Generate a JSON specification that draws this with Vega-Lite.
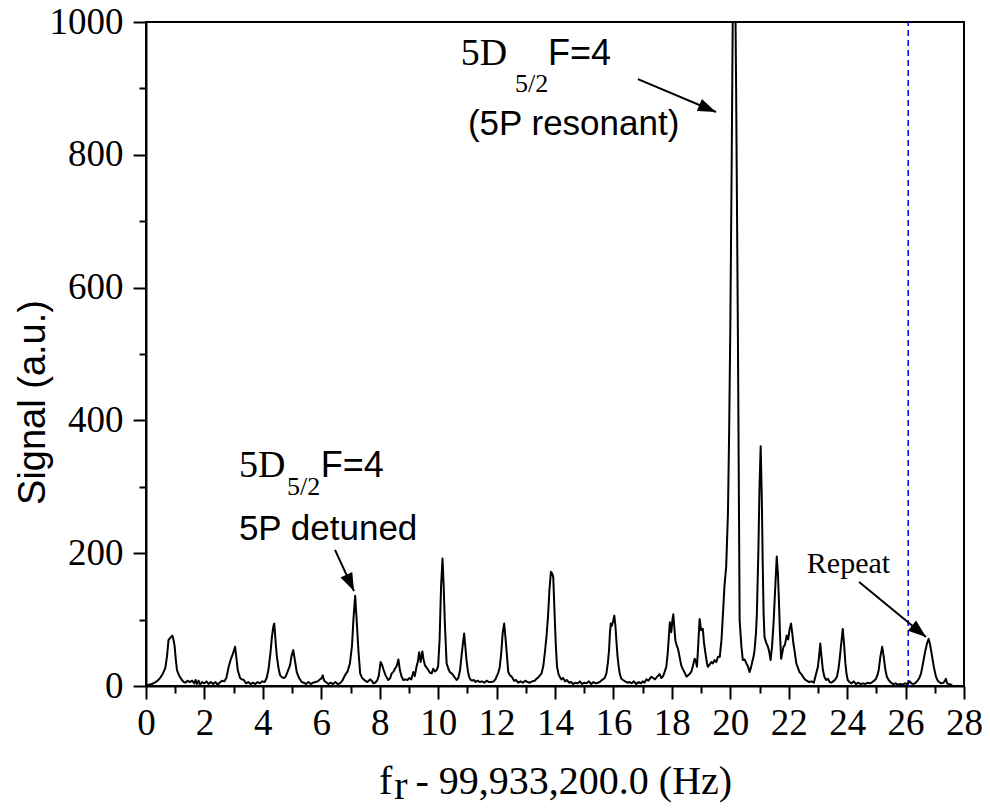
{
  "$schema": "https://vega.github.io/schema/vega-lite/v6.json",
  "width": 818,
  "height": 664,
  "autosize": {"type": "none"},
  "padding": {"left": 146, "top": 22, "right": 26, "bottom": 123},
  "background": "white",
  "config": {
    "view": {"stroke": "black", "strokeWidth": 2},
    "axis": {"domainColor": "black", "tickColor": "black", "labelColor": "black", "titleColor": "black", "grid": false}
  },
  "datasets": {
    "spectrum": [
      {"f":0.0,"s":1},{"f":0.1,"s":2},{"f":0.2,"s":3},{"f":0.3,"s":5},{"f":0.4,"s":8},{"f":0.5,"s":13},{"f":0.58,"s":19},{"f":0.66,"s":27},{"f":0.72,"s":45},{"f":0.77,"s":69},{"f":0.82,"s":72},{"f":0.86,"s":74},{"f":0.9,"s":76},{"f":0.94,"s":70},{"f":0.98,"s":60},{"f":1.02,"s":40},{"f":1.06,"s":24},{"f":1.12,"s":17},{"f":1.17,"s":13},{"f":1.23,"s":9},{"f":1.29,"s":6},{"f":1.35,"s":5},{"f":1.42,"s":8},{"f":1.5,"s":6},{"f":1.58,"s":8},{"f":1.65,"s":4},{"f":1.7,"s":9},{"f":1.74,"s":3},{"f":1.8,"s":8},{"f":1.85,"s":2},{"f":1.92,"s":6},{"f":2.0,"s":4},{"f":2.07,"s":7},{"f":2.14,"s":3},{"f":2.22,"s":6},{"f":2.3,"s":3},{"f":2.38,"s":6},{"f":2.45,"s":2},{"f":2.52,"s":5},{"f":2.6,"s":8},{"f":2.68,"s":7},{"f":2.75,"s":12},{"f":2.83,"s":29},{"f":2.9,"s":40},{"f":2.97,"s":48},{"f":3.05,"s":59},{"f":3.1,"s":40},{"f":3.14,"s":24},{"f":3.22,"s":12},{"f":3.28,"s":10},{"f":3.35,"s":9},{"f":3.42,"s":4},{"f":3.5,"s":6},{"f":3.58,"s":3},{"f":3.66,"s":5},{"f":3.74,"s":3},{"f":3.82,"s":6},{"f":3.9,"s":4},{"f":3.98,"s":7},{"f":4.06,"s":6},{"f":4.13,"s":12},{"f":4.19,"s":24},{"f":4.26,"s":50},{"f":4.31,"s":74},{"f":4.36,"s":90},{"f":4.39,"s":94},{"f":4.44,"s":65},{"f":4.48,"s":44},{"f":4.54,"s":26},{"f":4.59,"s":16},{"f":4.66,"s":13},{"f":4.72,"s":12},{"f":4.78,"s":14},{"f":4.85,"s":22},{"f":4.93,"s":31},{"f":4.98,"s":45},{"f":5.04,"s":54},{"f":5.1,"s":38},{"f":5.16,"s":21},{"f":5.24,"s":12},{"f":5.33,"s":6},{"f":5.4,"s":5},{"f":5.48,"s":3},{"f":5.56,"s":6},{"f":5.64,"s":3},{"f":5.72,"s":5},{"f":5.8,"s":6},{"f":5.88,"s":7},{"f":5.95,"s":10},{"f":6.0,"s":11},{"f":6.05,"s":16},{"f":6.1,"s":8},{"f":6.16,"s":6},{"f":6.24,"s":3},{"f":6.32,"s":5},{"f":6.4,"s":3},{"f":6.48,"s":6},{"f":6.56,"s":3},{"f":6.64,"s":4},{"f":6.72,"s":8},{"f":6.81,"s":16},{"f":6.9,"s":22},{"f":6.98,"s":34},{"f":7.05,"s":60},{"f":7.1,"s":100},{"f":7.16,"s":136},{"f":7.21,"s":100},{"f":7.27,"s":54},{"f":7.33,"s":19},{"f":7.4,"s":12},{"f":7.5,"s":8},{"f":7.58,"s":6},{"f":7.67,"s":10},{"f":7.73,"s":8},{"f":7.78,"s":4},{"f":7.85,"s":5},{"f":7.92,"s":9},{"f":7.97,"s":16},{"f":8.03,"s":36},{"f":8.08,"s":32},{"f":8.12,"s":26},{"f":8.2,"s":16},{"f":8.29,"s":9},{"f":8.36,"s":12},{"f":8.41,"s":19},{"f":8.48,"s":22},{"f":8.52,"s":26},{"f":8.58,"s":30},{"f":8.64,"s":40},{"f":8.69,"s":24},{"f":8.75,"s":14},{"f":8.81,"s":9},{"f":8.88,"s":10},{"f":8.95,"s":9},{"f":9.02,"s":12},{"f":9.08,"s":10},{"f":9.15,"s":21},{"f":9.2,"s":15},{"f":9.26,"s":29},{"f":9.31,"s":38},{"f":9.35,"s":51},{"f":9.4,"s":36},{"f":9.46,"s":52},{"f":9.5,"s":40},{"f":9.55,"s":31},{"f":9.6,"s":28},{"f":9.66,"s":24},{"f":9.72,"s":20},{"f":9.78,"s":19},{"f":9.83,"s":26},{"f":9.89,"s":22},{"f":9.95,"s":24},{"f":10.0,"s":30},{"f":10.05,"s":70},{"f":10.1,"s":150},{"f":10.15,"s":192},{"f":10.19,"s":150},{"f":10.23,"s":94},{"f":10.29,"s":34},{"f":10.35,"s":26},{"f":10.4,"s":21},{"f":10.46,"s":19},{"f":10.52,"s":16},{"f":10.58,"s":12},{"f":10.63,"s":9},{"f":10.69,"s":12},{"f":10.75,"s":24},{"f":10.81,"s":49},{"f":10.85,"s":65},{"f":10.89,"s":79},{"f":10.93,"s":60},{"f":10.97,"s":39},{"f":11.02,"s":22},{"f":11.06,"s":14},{"f":11.1,"s":10},{"f":11.16,"s":8},{"f":11.22,"s":9},{"f":11.28,"s":6},{"f":11.35,"s":8},{"f":11.42,"s":6},{"f":11.5,"s":7},{"f":11.58,"s":5},{"f":11.66,"s":8},{"f":11.74,"s":6},{"f":11.82,"s":6},{"f":11.9,"s":7},{"f":11.96,"s":10},{"f":12.0,"s":14},{"f":12.06,"s":20},{"f":12.11,"s":29},{"f":12.16,"s":50},{"f":12.21,"s":80},{"f":12.26,"s":94},{"f":12.3,"s":75},{"f":12.34,"s":54},{"f":12.4,"s":21},{"f":12.46,"s":16},{"f":12.52,"s":14},{"f":12.6,"s":8},{"f":12.67,"s":9},{"f":12.74,"s":5},{"f":12.82,"s":7},{"f":12.9,"s":5},{"f":12.98,"s":8},{"f":13.06,"s":6},{"f":13.14,"s":5},{"f":13.22,"s":7},{"f":13.3,"s":8},{"f":13.37,"s":11},{"f":13.45,"s":14},{"f":13.54,"s":19},{"f":13.6,"s":30},{"f":13.65,"s":49},{"f":13.71,"s":75},{"f":13.76,"s":104},{"f":13.81,"s":145},{"f":13.86,"s":172},{"f":13.9,"s":170},{"f":13.94,"s":164},{"f":13.99,"s":104},{"f":14.03,"s":60},{"f":14.07,"s":29},{"f":14.12,"s":18},{"f":14.16,"s":14},{"f":14.22,"s":10},{"f":14.28,"s":12},{"f":14.34,"s":7},{"f":14.4,"s":9},{"f":14.48,"s":5},{"f":14.55,"s":6},{"f":14.62,"s":3},{"f":14.7,"s":5},{"f":14.78,"s":4},{"f":14.85,"s":7},{"f":14.92,"s":3},{"f":15.0,"s":5},{"f":15.08,"s":4},{"f":15.16,"s":7},{"f":15.24,"s":3},{"f":15.32,"s":6},{"f":15.4,"s":4},{"f":15.48,"s":5},{"f":15.56,"s":7},{"f":15.64,"s":10},{"f":15.7,"s":12},{"f":15.76,"s":19},{"f":15.81,"s":35},{"f":15.85,"s":54},{"f":15.88,"s":80},{"f":15.91,"s":94},{"f":15.95,"s":91},{"f":15.99,"s":98},{"f":16.03,"s":106},{"f":16.07,"s":90},{"f":16.1,"s":69},{"f":16.14,"s":45},{"f":16.18,"s":29},{"f":16.22,"s":18},{"f":16.27,"s":11},{"f":16.33,"s":9},{"f":16.4,"s":7},{"f":16.48,"s":5},{"f":16.55,"s":6},{"f":16.62,"s":4},{"f":16.7,"s":7},{"f":16.78,"s":3},{"f":16.86,"s":6},{"f":16.94,"s":4},{"f":17.0,"s":7},{"f":17.06,"s":5},{"f":17.13,"s":10},{"f":17.2,"s":8},{"f":17.3,"s":14},{"f":17.36,"s":12},{"f":17.42,"s":10},{"f":17.5,"s":14},{"f":17.58,"s":18},{"f":17.64,"s":12},{"f":17.7,"s":15},{"f":17.76,"s":22},{"f":17.81,"s":29},{"f":17.86,"s":50},{"f":17.89,"s":69},{"f":17.93,"s":96},{"f":17.98,"s":81},{"f":18.02,"s":100},{"f":18.05,"s":108},{"f":18.09,"s":85},{"f":18.12,"s":69},{"f":18.16,"s":62},{"f":18.21,"s":56},{"f":18.26,"s":45},{"f":18.32,"s":31},{"f":18.38,"s":25},{"f":18.44,"s":20},{"f":18.5,"s":14},{"f":18.55,"s":16},{"f":18.61,"s":18},{"f":18.67,"s":22},{"f":18.72,"s":30},{"f":18.78,"s":41},{"f":18.82,"s":38},{"f":18.86,"s":29},{"f":18.9,"s":60},{"f":18.95,"s":101},{"f":19.0,"s":84},{"f":19.06,"s":86},{"f":19.1,"s":65},{"f":19.15,"s":49},{"f":19.2,"s":35},{"f":19.23,"s":29},{"f":19.29,"s":32},{"f":19.35,"s":36},{"f":19.4,"s":34},{"f":19.46,"s":39},{"f":19.52,"s":36},{"f":19.58,"s":44},{"f":19.64,"s":44},{"f":19.7,"s":70},{"f":19.75,"s":109},{"f":19.8,"s":150},{"f":19.86,"s":180},{"f":19.92,"s":260},{"f":19.96,"s":380},{"f":20.0,"s":535},{"f":20.05,"s":800},{"f":20.1,"s":1100},{"f":20.15,"s":1150},{"f":20.2,"s":900},{"f":20.26,"s":535},{"f":20.32,"s":99},{"f":20.38,"s":60},{"f":20.43,"s":39},{"f":20.49,"s":40},{"f":20.55,"s":34},{"f":20.6,"s":30},{"f":20.66,"s":21},{"f":20.71,"s":28},{"f":20.75,"s":36},{"f":20.8,"s":45},{"f":20.83,"s":54},{"f":20.88,"s":80},{"f":20.91,"s":109},{"f":20.96,"s":200},{"f":21.0,"s":300},{"f":21.04,"s":361},{"f":21.08,"s":280},{"f":21.11,"s":185},{"f":21.14,"s":110},{"f":21.17,"s":74},{"f":21.23,"s":65},{"f":21.29,"s":59},{"f":21.34,"s":50},{"f":21.38,"s":39},{"f":21.43,"s":60},{"f":21.48,"s":94},{"f":21.53,"s":140},{"f":21.59,"s":195},{"f":21.63,"s":170},{"f":21.66,"s":134},{"f":21.7,"s":80},{"f":21.74,"s":41},{"f":21.78,"s":50},{"f":21.82,"s":59},{"f":21.87,"s":62},{"f":21.93,"s":76},{"f":21.98,"s":70},{"f":22.03,"s":85},{"f":22.08,"s":94},{"f":22.12,"s":80},{"f":22.16,"s":64},{"f":22.21,"s":50},{"f":22.26,"s":34},{"f":22.31,"s":28},{"f":22.37,"s":21},{"f":22.43,"s":18},{"f":22.49,"s":14},{"f":22.55,"s":10},{"f":22.62,"s":8},{"f":22.7,"s":6},{"f":22.78,"s":7},{"f":22.86,"s":5},{"f":22.94,"s":19},{"f":23.0,"s":29},{"f":23.04,"s":45},{"f":23.08,"s":64},{"f":23.12,"s":45},{"f":23.17,"s":24},{"f":23.22,"s":14},{"f":23.28,"s":9},{"f":23.34,"s":11},{"f":23.4,"s":6},{"f":23.46,"s":5},{"f":23.52,"s":7},{"f":23.58,"s":9},{"f":23.65,"s":14},{"f":23.7,"s":25},{"f":23.74,"s":39},{"f":23.8,"s":65},{"f":23.85,"s":86},{"f":23.9,"s":60},{"f":23.94,"s":34},{"f":23.98,"s":18},{"f":24.02,"s":9},{"f":24.08,"s":6},{"f":24.15,"s":4},{"f":24.22,"s":7},{"f":24.3,"s":3},{"f":24.38,"s":5},{"f":24.46,"s":3},{"f":24.54,"s":4},{"f":24.62,"s":3},{"f":24.7,"s":5},{"f":24.78,"s":4},{"f":24.86,"s":6},{"f":24.93,"s":8},{"f":24.99,"s":11},{"f":25.04,"s":17},{"f":25.08,"s":24},{"f":25.14,"s":45},{"f":25.2,"s":59},{"f":25.25,"s":45},{"f":25.31,"s":24},{"f":25.36,"s":14},{"f":25.42,"s":9},{"f":25.5,"s":5},{"f":25.58,"s":3},{"f":25.66,"s":4},{"f":25.74,"s":2},{"f":25.82,"s":3},{"f":25.9,"s":2},{"f":25.98,"s":4},{"f":26.06,"s":3},{"f":26.14,"s":7},{"f":26.2,"s":4},{"f":26.28,"s":3},{"f":26.35,"s":5},{"f":26.41,"s":8},{"f":26.47,"s":12},{"f":26.53,"s":19},{"f":26.6,"s":35},{"f":26.68,"s":54},{"f":26.74,"s":65},{"f":26.79,"s":71},{"f":26.84,"s":62},{"f":26.91,"s":44},{"f":26.97,"s":28},{"f":27.04,"s":14},{"f":27.1,"s":8},{"f":27.15,"s":6},{"f":27.22,"s":4},{"f":27.3,"s":5},{"f":27.35,"s":8},{"f":27.38,"s":11},{"f":27.42,"s":4},{"f":27.48,"s":3},{"f":27.55,"s":2},{"f":27.6,"s":2}
    ],
    "arrows": [
      {"id": "resonant", "x": 16.84, "y": 914, "x2": 19.51, "y2": 864.5},
      {"id": "detuned", "x": 6.47, "y": 205, "x2": 7.12, "y2": 143},
      {"id": "repeat", "x": 24.41, "y": 156.6, "x2": 26.70, "y2": 73.8}
    ],
    "labels": [
      {"id": "main", "text": "5D", "x": 10.77, "y": 935},
      {"id": "sub", "text": "5/2", "x": 12.63, "y": 895},
      {"id": "fsans", "text": "F=4", "x": 13.76, "y": 935},
      {"id": "sans", "text": "(5P resonant)", "x": 11.02, "y": 830},
      {"id": "main", "text": "5D", "x": 3.18, "y": 315},
      {"id": "sub", "text": "5/2", "x": 4.83, "y": 288},
      {"id": "fsans", "text": "F=4", "x": 5.98, "y": 315},
      {"id": "sans", "text": "5P detuned", "x": 3.18, "y": 220},
      {"id": "repeat", "text": "Repeat", "x": 22.62, "y": 170},
      {"id": "xsub", "text": "r", "x": 8.5, "y": -170}
    ],
    "vline": [{"f": 26.09, "lo": 0, "hi": 1000}]
  },
  "layer": [
    {
      "data": {"name": "spectrum"},
      "mark": {"type": "point", "opacity": 0},
      "encoding": {
        "x": {"field": "f", "type": "quantitative", "scale": {"domain": [0, 28], "nice": false, "zero": false},
          "axis": {"orient": "bottom", "values": [1,3,5,7,9,11,13,15,17,19,21,23,25,27], "labels": false, "domain": false, "tickSize": 7, "tickWidth": 2, "title": null}},
        "y": {"field": "s", "type": "quantitative", "scale": {"domain": [0, 1000], "nice": false},
          "axis": {"orient": "left", "values": [100,300,500,700,900], "labels": false, "domain": false, "tickSize": 7, "tickWidth": 2, "title": null}}
      }
    },
    {
      "layer": [
        {
          "data": {"name": "vline"},
          "mark": {"type": "rule", "color": "#0000ff", "strokeWidth": 1.5, "strokeDash": [6, 4]},
          "encoding": {
            "x": {"field": "f", "type": "quantitative"},
            "y": {"field": "lo", "type": "quantitative"},
            "y2": {"field": "hi"}
          }
        },
        {
          "data": {"name": "spectrum"},
          "mark": {"type": "line", "color": "black", "strokeWidth": 2, "clip": true, "strokeJoin": "round"},
          "encoding": {
            "x": {"field": "f", "type": "quantitative", "scale": {"domain": [0, 28], "nice": false, "zero": false},
              "axis": {"orient": "bottom", "values": [0,2,4,6,8,10,12,14,16,18,20,22,24,26,28], "tickSize": 13, "tickWidth": 2, "domainWidth": 2,
                "labelFont": "Liberation Serif", "labelFontSize": 37, "labelPadding": 6, "labelFlush": false, "labelOverlap": false, "format": "d",
                "title": "f\u2004 - 99,933,200.0 (Hz)", "titleFont": "Liberation Serif", "titleFontSize": 40, "titleFontWeight": "normal",
                "titleBaseline": "alphabetic", "titleY": 107}},
            "y": {"field": "s", "type": "quantitative", "scale": {"domain": [0, 1000], "nice": false},
              "axis": {"orient": "left", "values": [0,200,400,600,800,1000], "tickSize": 13, "tickWidth": 2, "domainWidth": 2,
                "labelFont": "Liberation Serif", "labelFontSize": 37, "labelPadding": 10, "labelFlush": false, "labelOverlap": false, "format": "d",
                "title": "Signal (a.u.)", "titleFont": "Liberation Sans", "titleFontSize": 38, "titleFontWeight": "normal",
                "titleAngle": -90, "titleAlign": "center", "titleBaseline": "alphabetic", "titleX": -102, "titleY": 380}}
          }
        },
        {
          "data": {"name": "arrows"},
          "mark": {"type": "rule", "color": "black", "strokeWidth": 2},
          "encoding": {
            "x": {"field": "x", "type": "quantitative"},
            "y": {"field": "y", "type": "quantitative"},
            "x2": {"field": "x2"},
            "y2": {"field": "y2"}
          }
        },
        {
          "data": {"name": "arrows"},
          "transform": [{"filter": "datum.id === 'resonant'"}],
          "mark": {"type": "point", "shape": "M0,0L-1,-0.36L-1,0.36Z", "filled": true, "color": "black", "opacity": 1, "size": 1300, "angle": 23},
          "encoding": {"x": {"field": "x2", "type": "quantitative"}, "y": {"field": "y2", "type": "quantitative"}}
        },
        {
          "data": {"name": "arrows"},
          "transform": [{"filter": "datum.id === 'detuned'"}],
          "mark": {"type": "point", "shape": "M0,0L-1,-0.36L-1,0.36Z", "filled": true, "color": "black", "opacity": 1, "size": 1300, "angle": 65},
          "encoding": {"x": {"field": "x2", "type": "quantitative"}, "y": {"field": "y2", "type": "quantitative"}}
        },
        {
          "data": {"name": "arrows"},
          "transform": [{"filter": "datum.id === 'repeat'"}],
          "mark": {"type": "point", "shape": "M0,0L-1,-0.36L-1,0.36Z", "filled": true, "color": "black", "opacity": 1, "size": 1300, "angle": 39},
          "encoding": {"x": {"field": "x2", "type": "quantitative"}, "y": {"field": "y2", "type": "quantitative"}}
        },
        {
          "data": {"name": "labels"},
          "transform": [{"filter": "datum.id === 'main'"}],
          "mark": {"type": "text", "font": "Liberation Serif", "fontSize": 38, "align": "left", "baseline": "alphabetic", "color": "black"},
          "encoding": {"x": {"field": "x", "type": "quantitative"}, "y": {"field": "y", "type": "quantitative"}, "text": {"field": "text"}}
        },
        {
          "data": {"name": "labels"},
          "transform": [{"filter": "datum.id === 'sub'"}],
          "mark": {"type": "text", "font": "Liberation Serif", "fontSize": 26, "align": "left", "baseline": "alphabetic", "color": "black"},
          "encoding": {"x": {"field": "x", "type": "quantitative"}, "y": {"field": "y", "type": "quantitative"}, "text": {"field": "text"}}
        },
        {
          "data": {"name": "labels"},
          "transform": [{"filter": "datum.id === 'fsans'"}],
          "mark": {"type": "text", "font": "Liberation Sans", "fontSize": 36, "align": "left", "baseline": "alphabetic", "color": "black"},
          "encoding": {"x": {"field": "x", "type": "quantitative"}, "y": {"field": "y", "type": "quantitative"}, "text": {"field": "text"}}
        },
        {
          "data": {"name": "labels"},
          "transform": [{"filter": "datum.id === 'sans'"}],
          "mark": {"type": "text", "font": "Liberation Sans", "fontSize": 35, "align": "left", "baseline": "alphabetic", "color": "black"},
          "encoding": {"x": {"field": "x", "type": "quantitative"}, "y": {"field": "y", "type": "quantitative"}, "text": {"field": "text"}}
        },
        {
          "data": {"name": "labels"},
          "transform": [{"filter": "datum.id === 'repeat'"}],
          "mark": {"type": "text", "font": "Liberation Serif", "fontSize": 30, "align": "left", "baseline": "alphabetic", "color": "black"},
          "encoding": {"x": {"field": "x", "type": "quantitative"}, "y": {"field": "y", "type": "quantitative"}, "text": {"field": "text"}}
        },
        {
          "data": {"name": "labels"},
          "transform": [{"filter": "datum.id === 'xsub'"}],
          "mark": {"type": "text", "font": "Liberation Serif", "fontSize": 40, "align": "left", "baseline": "alphabetic", "color": "black"},
          "encoding": {"x": {"field": "x", "type": "quantitative"}, "y": {"field": "y", "type": "quantitative"}, "text": {"field": "text"}}
        }
      ]
    }
  ],
  "resolve": {"axis": {"x": "independent", "y": "independent"}}
}
